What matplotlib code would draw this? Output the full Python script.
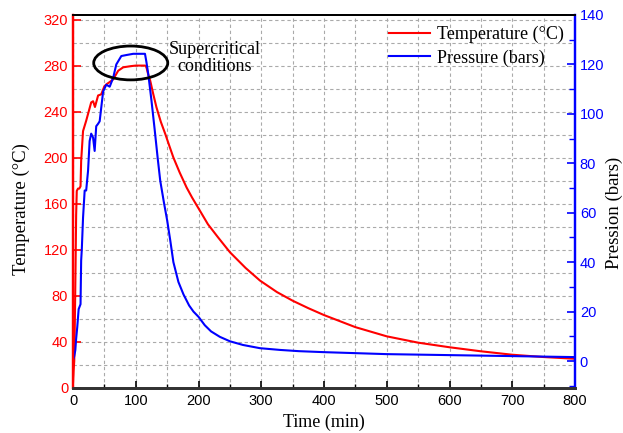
import matplotlib
matplotlib.use("Agg")
import matplotlib.pyplot as plt
from matplotlib.patches import Ellipse
from matplotlib.ticker import MultipleLocator

# ---- data ----
time_T = [0, 1, 2, 3, 4, 5, 6, 8, 10, 12, 13, 16, 21, 24, 29, 32, 35, 38, 40, 45,
          50, 54, 58, 64, 72, 80, 86, 92, 100, 108, 115, 117, 120, 123, 128, 133,
          140, 147, 153, 160, 170, 181, 190, 202, 215, 231, 250, 275, 298, 325,
          350, 375, 400, 450, 500, 550, 600, 650, 700, 750, 800]
temperature = [4, 15, 23, 60, 102, 150, 171, 173, 173, 175, 197, 223, 232, 238, 248,
               249, 244, 250, 254, 255, 262, 264, 265.5, 268, 275.5, 278.5, 279,
               279.5, 280, 280, 280, 278.5, 272, 267, 255, 243.7, 231, 220.6, 211,
               200, 187, 174, 165, 154, 142, 130.7, 117.7, 104, 93, 83, 75.5, 69,
               63, 52.5, 44.5, 39, 35, 31.5, 28.5, 26.5, 25]

time_P = [0, 2, 3.7, 5, 6.8, 9, 12, 13, 14, 16, 18.6, 21, 24, 26.5, 29, 32, 34.5,
          37, 40, 42.5, 45, 48, 53, 58.5, 64, 69, 77, 85, 96, 105, 114.7, 117, 120,
          125, 130, 135, 139, 145, 150, 155, 160, 168, 176, 185, 192, 200, 210,
          220, 234, 250, 271, 298, 330, 360, 400, 500, 600, 700, 800]
pressure = [0.4, 2, 4.4, 9, 13.8, 21, 23, 40.7, 45, 58, 69, 69, 77, 89, 92, 90.4,
            85, 95, 96, 97, 102.5, 109, 111.8, 111, 114.6, 120, 123.4, 123.8,
            124.3, 124.3, 124.3, 121, 116, 105.5, 94, 82, 73, 64, 57, 48.8, 40,
            32, 27, 22.5, 20, 17.9, 14.5, 12, 9.8, 8, 6.5, 5.2, 4.5, 4.0, 3.6,
            2.8, 2.4, 2.0, 1.6]

x_ticks = [0, 100, 200, 300, 400, 500, 600, 700, 800]
t_ticks = [0, 40, 80, 120, 160, 200, 240, 280, 320]
p_ticks = [0, 20, 40, 60, 80, 100, 120, 140]

serif = "Liberation Serif"
sans = "Liberation Sans"

fig = plt.figure(figsize=(6.23, 4.33), dpi=100)
ax = fig.add_axes([73 / 623, 1 - 387.5 / 433, (575 - 73) / 623, (387.5 - 15) / 433])
ax2 = ax.twinx()

red = "#ff0000"
blue = "#0000ff"

l1, = ax.plot(time_T, temperature, color=red, lw=1.5, label="Temperature (°C)")
l2, = ax2.plot(time_P, pressure, color=blue, lw=1.5, label="Pressure (bars)")

ax.set_xlim(0, 800)
ax.set_ylim(0, 324)
ax2.set_ylim(-10.7, 140)

ax.set_xticks(x_ticks)
ax.xaxis.set_minor_locator(MultipleLocator(50))
ax.set_yticks(t_ticks)
ax.yaxis.set_minor_locator(MultipleLocator(20))
ax2.set_yticks(p_ticks)
ax2.yaxis.set_minor_locator(MultipleLocator(10))

ax.grid(True, which="both", axis="both", color="#aaaaaa", linestyle=(0, (3, 2.5)), lw=0.8)
ax.set_axisbelow(True)

ax.tick_params(axis="x", which="major", direction="in", length=5, width=1.2,
               labelsize=10.5, colors="black", top=False, pad=5)
ax.tick_params(axis="x", which="minor", direction="in", length=3, width=1, top=False)
ax.tick_params(axis="y", which="major", direction="in", length=6, width=1.2,
               labelsize=10.5, colors=red)
ax.tick_params(axis="y", which="minor", length=0)
ax2.tick_params(axis="y", which="major", direction="in", length=6, width=1.2,
                labelsize=10.5, colors=blue)
ax2.tick_params(axis="y", which="minor", direction="in", length=4, width=1, colors=blue)

for lab in ax.get_xticklabels() + ax.get_yticklabels() + ax2.get_yticklabels():
    lab.set_fontfamily(sans)

for a in (ax, ax2):
    a.spines["left"].set_color(red)
    a.spines["left"].set_linewidth(1.6)
    a.spines["right"].set_color(blue)
    a.spines["right"].set_linewidth(1.6)
    a.spines["bottom"].set_color("#333333")
    a.spines["bottom"].set_linewidth(2)
    a.spines["top"].set_color("black")
    a.spines["top"].set_linewidth(1.4)

ax.set_xlabel("Time (min)", fontfamily=serif, fontsize=13, labelpad=4)
ax.set_ylabel("Temperature (°C)", fontfamily=serif, fontsize=13.5, labelpad=10)
ax2.set_ylabel("Pression (bars)", fontfamily=serif, fontsize=13.5, labelpad=1)
ax.yaxis.label.set_y(0.48)
ax2.yaxis.label.set_y(0.47)

ell = Ellipse((92, 120.6), width=118, height=13.7, fill=False, edgecolor="black", lw=2,
              zorder=5)
ax2.add_patch(ell)
ax2.text(226, 122.6, "Supercritical\nconditions", ha="center", va="center",
         fontfamily=serif, fontsize=13, linespacing=1.05)

leg = ax2.legend(handles=[l1, l2], loc="upper right", frameon=False,
                 prop={"family": serif, "size": 13}, handlelength=2.3,
                 handletextpad=0.4, labelspacing=0.35,
                 bbox_to_anchor=(1.0, 1.0), borderaxespad=0.2)

fig.savefig("out.png", dpi=100)
